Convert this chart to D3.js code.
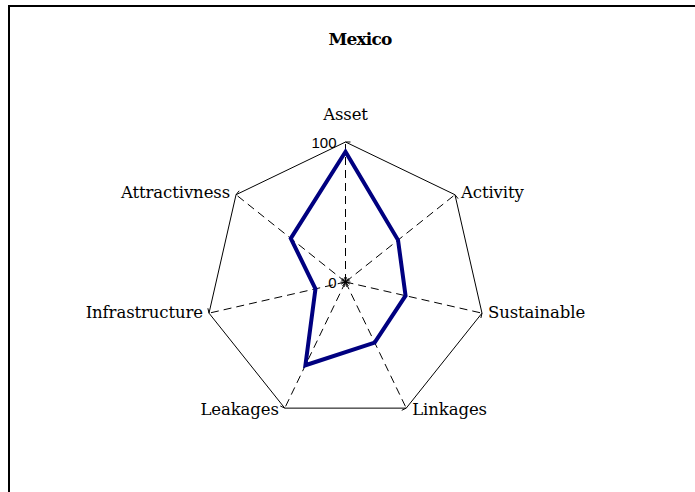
<!DOCTYPE html>
<html>
<head>
<meta charset="utf-8">
<script src="https://cdn.jsdelivr.net/npm/d3@7"></script>
<style>
body { margin: 0; background: #fff; }
</style>
</head>
<body>
<script>
var svgWidth = 695;
var svgHeight = 492;

// data
var axesNames = ["Asset", "Activity", "Sustainable", "Linkages", "Leakages", "Infrastructure", "Attractivness"];
var mexicoValues = [93, 48, 44, 48, 66, 22, 50];
var tickLabels = [0, 100];

var cx = 345.5, cy = 282, radius = 140;

var svg = d3.select("body").append("svg")
    .attr("width", svgWidth)
    .attr("height", svgHeight);

// frame (only left + top visible in crop)
svg.append("path")
    .attr("d", "M9,492 V6 H695")
    .attr("fill", "none")
    .attr("stroke", "#000")
    .attr("stroke-width", 2);

svg.append("text")
    .attr("x", 360)
    .attr("y", 45)
    .attr("text-anchor", "middle")
    .attr("font-family", "DejaVu Serif, serif")
    .attr("font-weight", "bold")
    .attr("font-size", 17)
    .attr("letter-spacing", -0.8)
    .text("Mexico");

var chartGroup = svg.append("g")
    .attr("transform", `translate(${cx}, ${cy})`);

var rScale = d3.scaleLinear().domain([0, 100]).range([0, radius]);
var angle = d3.scalePoint().domain(axesNames).range([0, 2 * Math.PI * (axesNames.length - 1) / axesNames.length]);

function pt(name, v) {
    var a = angle(name);
    return [rScale(v) * Math.sin(a), -rScale(v) * Math.cos(a)];
}

// spokes
chartGroup.selectAll(".spoke")
    .data(axesNames)
    .join("line")
    .attr("class", "spoke")
    .attr("x1", 0).attr("y1", 0)
    .attr("x2", d => pt(d, 100)[0])
    .attr("y2", d => pt(d, 100)[1])
    .attr("stroke", "#000")
    .attr("stroke-width", 1)
    .attr("stroke-dasharray", "8,5");

// outer polygon
var outer = axesNames.map(d => pt(d, 100));
chartGroup.append("path")
    .attr("d", d3.line()(outer) + "Z")
    .attr("fill", "none")
    .attr("stroke", "#000")
    .attr("stroke-width", 1);

// little tick marks at vertices
chartGroup.selectAll(".tick")
    .data(axesNames)
    .join("line")
    .attr("class", "tick")
    .attr("x1", d => pt(d, 100)[0])
    .attr("y1", d => pt(d, 100)[1])
    .attr("x2", d => pt(d, 100)[0] + 5 * Math.cos(angle(d)))
    .attr("y2", d => pt(d, 100)[1] + 5 * Math.sin(angle(d)))
    .attr("stroke", "#000");

// center star ticks
chartGroup.selectAll(".ctick")
    .data(axesNames)
    .join("line")
    .attr("class", "ctick")
    .attr("x1", d => -5 * Math.cos(angle(d)))
    .attr("y1", d => -5 * Math.sin(angle(d)))
    .attr("x2", d => 5 * Math.cos(angle(d)))
    .attr("y2", d => 5 * Math.sin(angle(d)))
    .attr("stroke", "#000")
    .attr("stroke-width", 0.8);

// tick labels
chartGroup.selectAll(".tlabel")
    .data(tickLabels)
    .join("text")
    .attr("class", "tlabel")
    .attr("x", -9)
    .attr("y", d => -rScale(d) + 6)
    .attr("text-anchor", "end")
    .attr("font-family", "Liberation Sans, Arial, sans-serif")
    .attr("font-size", 15)
    .text(d => d);

// axis labels
var labelPos = {
    "Asset": { dx: 0, dy: -22, anchor: "middle" },
    "Activity": { dx: 6, dy: 3, anchor: "start" },
    "Sustainable": { dx: 6, dy: 5, anchor: "start" },
    "Linkages": { dx: 6, dy: 7, anchor: "start" },
    "Leakages": { dx: -6, dy: 7, anchor: "end" },
    "Infrastructure": { dx: -6, dy: 5, anchor: "end" },
    "Attractivness": { dx: -6, dy: 3, anchor: "end" }
};
chartGroup.selectAll(".alabel")
    .data(axesNames)
    .join("text")
    .attr("class", "alabel")
    .attr("x", d => pt(d, 100)[0] + labelPos[d].dx)
    .attr("y", d => pt(d, 100)[1] + labelPos[d].dy)
    .attr("text-anchor", d => labelPos[d].anchor)
    .attr("font-family", "DejaVu Serif, serif")
    .attr("font-size", 16.5)
    .attr("letter-spacing", -0.1)
    .text(d => d);

// data series
var seriesPts = axesNames.map((d, i) => pt(d, mexicoValues[i]));
chartGroup.append("path")
    .attr("d", d3.line()(seriesPts) + "Z")
    .attr("fill", "none")
    .attr("stroke", "#000080")
    .attr("stroke-width", 4)
    .attr("stroke-linejoin", "miter");
</script>
</body>
</html>
